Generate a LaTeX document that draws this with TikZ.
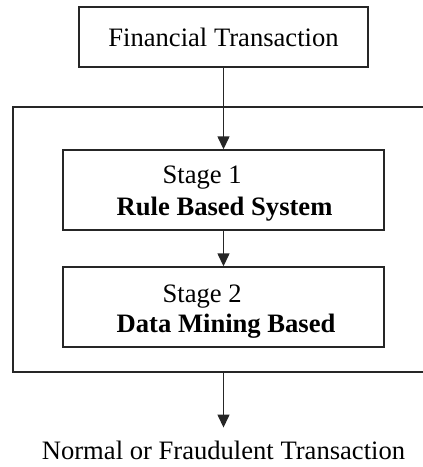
\documentclass[tikz,border=0pt]{standalone}
\usepackage{fontspec}
\setmainfont{Liberation Serif}
\usetikzlibrary{arrows.meta}

\begin{document}
\begin{tikzpicture}[x=1pt, y=-1pt, line width=1.4pt,
        box_style/.style={draw=black!85, rectangle, inner sep=0pt},
        text_style/.style={inner sep=0pt, font=\fontsize{26.6}{30}\selectfont},
        bold_style/.style={inner sep=0pt, font=\fontsize{26.6}{30}\selectfont\bfseries},
        arrow_style/.style={draw=black!85, -{Triangle[length=13pt, width=12pt]}}]

        \useasboundingbox (0,0) rectangle (423,467);
        \clip (0,0) rectangle (423,467);

        \node [box_style, minimum width=289pt, minimum height=60pt, text_style](ft) at (223.5,37) {Financial Transaction};
        \node [box_style, minimum width=421pt, minimum height=265pt](sys) at (223.5,239.5) {};
        \node [box_style, minimum width=321pt, minimum height=80pt](s1) at (223.5,190) {};
        \node [box_style, minimum width=321pt, minimum height=80pt](s2) at (223.5,307) {};
        \node [text_style, anchor=base west](s1a) at (162,183) {Stage 1};
        \node [bold_style, anchor=base west](s1b) at (116,215) {Rule Based System};
        \node [text_style, anchor=base west](s2a) at (162,302) {Stage 2};
        \node [bold_style, anchor=base west](s2b) at (116,332) {Data Mining Based};
        \node [text_style, anchor=base, outer ysep=13pt](out) at (223.5,459) {Normal or Fraudulent Transaction};

        \draw [arrow_style] (ft) -- (s1);
        \draw [arrow_style] (s1) -- (s2);
        \draw [arrow_style] (sys) -- (out);
\end{tikzpicture}
\end{document}
